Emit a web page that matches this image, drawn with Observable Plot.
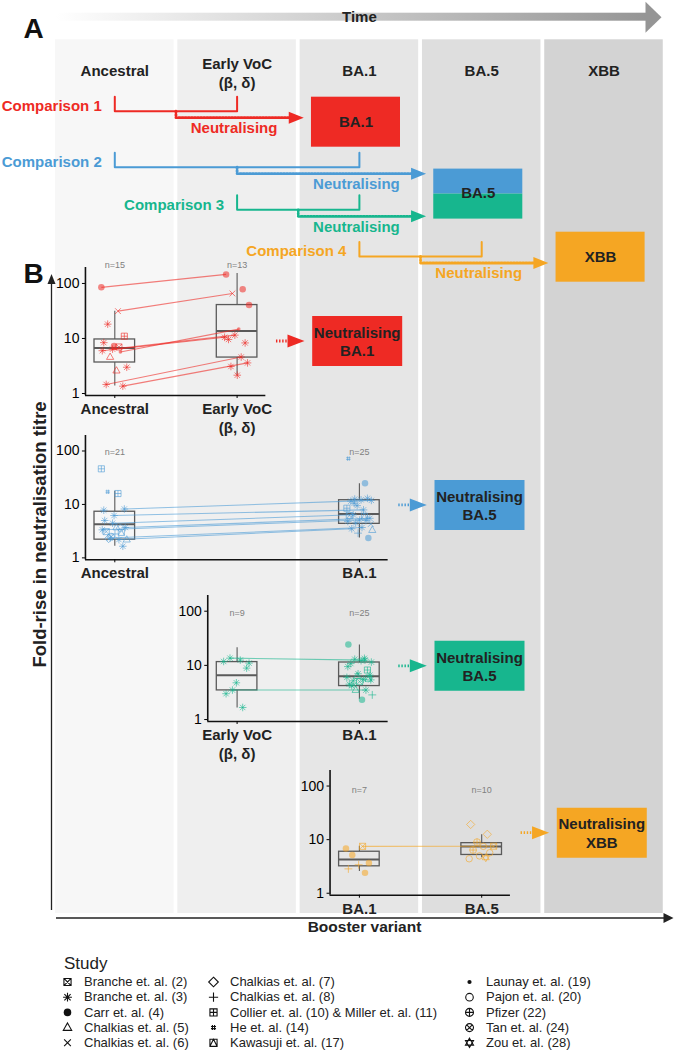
<!DOCTYPE html>
<html><head><meta charset="utf-8">
<script src="https://cdn.jsdelivr.net/npm/d3@7"></script>
<script src="https://cdn.jsdelivr.net/npm/@observablehq/plot@0.6"></script>
<style>
body{margin:0;background:#fff;}
#fig{position:relative;width:674px;height:1051px;overflow:hidden;}
</style></head><body><div id="fig"></div><script>
// ---------------- DATA ----------------
const variants = ["Ancestral", "Early VoC\n(β, δ)", "BA.1", "BA.5", "XBB"];
const comparisonNames = ["Comparison 1", "Comparison 2", "Comparison 3", "Comparison 4"];
const comparisonFrom = [0, 0, 1, 2];
const comparisonTo = [1, 2, 2, 3];
const comparisonTarget = [2, 3, 3, 4];
const studyCodes = ["B2","B3","C4","K5","K6","K7","K8","CM","H14","KW","L19","P20","PF","T24","Z28"];
const studyNames = ["Branche et. al. (2)","Branche et. al. (3)","Carr et. al. (4)","Chalkias et. al. (5)","Chalkias et. al. (6)",
  "Chalkias et. al. (7)","Chalkias et. al. (8)","Collier et. al. (10) & Miller et. al. (11)","He et. al. (14)","Kawasuji et. al. (17)",
  "Launay et. al. (19)","Pajon et. al. (20)","Pfizer (22)","Tan et. al. (24)","Zou et. al. (28)"];
const filledStudies = ["C4", "L19"];

// Comparison 1: Ancestral vs Early VoC
const cmp1Ancestral = [["C4",85],["K6",31.4],["B3",18.2],["CM",11],["C4",7.3],["B3",8.4],["L19",5.7],["K5",4.6],["B3",3.0],["K5",2.6],["B3",1.46],["B3",1.36],["B3",6.4],["B3",6.0],["B2",7.0]];
const cmp1EarlyVoC = [["C4",146],["C4",78.7],["K6",65.8],["C4",40.5],["L19",14.8],["B3",9.6],["B3",8.3],["B3",11.5],["B3",10.5],["B3",4.6],["B3",3.1],["B3",3.6],["B3",2.15]];
const cmp1Pairs = [[0,0],[1,2],[6,4],[12,7],[13,8],[10,9],[11,11]];
const cmp1Stats = [[1.37,3.66,6.7,9.6,31.4],[2.15,4.5,13.7,40.5,151]]; // lo, q1, median, q3, hi

// Comparison 2: Ancestral vs BA.1
const cmp2Ancestral = [["CM",46.4],["CM",16],["H14",17.2],["B3",8.2],["B3",6.2],["B3",7.8],["K7",3.6],["B3",2.35],["K5",2.19],["K5",3.7],["B2",3.1],["B3",1.65],["B3",4.45],["B3",3.35],["B3",2.2],["K7",2.3],["B3",3.7],["K8",2.8],["B3",5.0],["KW",3.0],["T24",2.5]];
const cmp2BA1 = [["H14",72],["C4",25],["B3",12.6],["B3",11.9],["B3",12.2],["B3",11.5],["B3",13],["B3",9.5],["CM",8.5],["B3",7.9],["B3",6.4],["B3",5.5],["B3",5.1],["B2",6.2],["B3",5.0],["B3",4.5],["K5",3.3],["B3",3.7],["B3",3.5],["C4",2.35],["K8",2.9],["B3",4.8],["KW",6.0],["B3",10.5],["K6",4.3]];
const cmp2Pairs = [[3,3],[4,9],[12,10],[16,11],[13,12],[7,17],[14,18]];
const cmp2Stats = [[1.65,2.19,4.26,7.3,17.7],[2.35,4.33,6.64,12.0,24.5]];

// Comparison 3: Early VoC vs BA.1
const cmp3EarlyVoC = [["B3",11.8],["B3",12.5],["B3",13.6],["B3",8.9],["B3",4.77],["B3",3.0],["B3",1.67],["B3",3.5],["B3",11]];
const cmp3BA1 = [["C4",24.4],["B3",12.5],["B3",13],["B3",11.5],["B3",12.2],["B3",10.8],["CM",8.2],["K5",6.3],["B3",6.0],["B3",5.5],["B3",5.2],["B3",6.6],["B2",5.0],["B3",4.5],["B3",3.5],["K5",3.5],["K8",2.85],["C4",2.31],["B3",4.2],["KW",5.8],["B3",7.0],["B3",9.5],["B3",13.5],["K6",4.4],["B3",5.4]];
const cmp3Pairs = [[2,1],[7,14]];
const cmp3Stats = [[1.63,3.45,6.6,11.5,21.2],[2.37,4.15,6.3,11.3,23.7]];

// Comparison 4: BA.1 vs BA.5
const cmp4BA1 = [["C4",6.85],["B2",7.5],["C4",5.18],["C4",3.66],["K8",3.4],["K8",2.85],["C4",2.4]];
const cmp4BA5 = [["K7",19.2],["K7",12.6],["PF",9.0],["B2",7.55],["P20",7.5],["PF",6.4],["P20",5.7],["P20",4.97],["P20",4.4],["Z28",4.6]];
const cmp4Pairs = [[1,3]];
const cmp4Stats = [[2.55,3.18,4.26,5.95,7.55],[4.6,5.18,7.45,8.6,12.3]];

const groups = [[cmp1Ancestral, cmp1EarlyVoC],[cmp2Ancestral, cmp2BA1],[cmp3EarlyVoC, cmp3BA1],[cmp4BA1, cmp4BA5]];
const pairsAll = [cmp1Pairs, cmp2Pairs, cmp3Pairs, cmp4Pairs];
const statsAll = [cmp1Stats, cmp2Stats, cmp3Stats, cmp4Stats];

// ---------------- STYLE / LAYOUT ----------------
const comparisonColors = ["#ee2a24", "#4b9bd5", "#17b68e", "#f5a623"];
const columnFills = ["#f7f7f7", "#efefef", "#e6e6e6", "#dedede", "#d3d3d3"];
const W = 674;
const px = i => 114.3 + 122.3 * i;       // column index -> pixel
const ux = p => (p - 114.3) / 122.3;     // pixel -> column index
const FONT = "'Liberation Sans', Arial, Helvetica, sans-serif";
const baseStyle = {fontFamily: FONT, background: "transparent", overflow: "visible", position: "absolute", left: "0px"};
const lanes = [110.7, 166.7, 209.3, 256];
const targetTops = [96.7, 168.6, 231.7];
const subTop = [267.3, 435, 595, 770];
const subH = [128, 124.3, 126, 124.7];
const subBoxY = [9, 9.8, 9.8, 13.5];
const subNY = [215, 95, 92, 83];
const legendColX = [67, 213, 469];
const DOTS = "1.4,1.7";
const jit = i => (((i * 0.6180339887) % 1) - 0.5) * 0.22;

// ---------------- SYMBOLS ----------------
const mk = f => ({draw(c, size) { const r = Math.sqrt(size / Math.PI); f(c, r); }});
const circ = (c, r) => { c.moveTo(r, 0); c.arc(0, 0, r, 0, 2 * Math.PI); };
const studySymbols = [
  mk((c,r)=>{const s=r*0.85; c.rect(-s,-s,2*s,2*s); c.moveTo(-s,-s); c.lineTo(s,s); c.moveTo(s,-s); c.lineTo(-s,s);}),
  mk((c,r)=>{const s=r*1.05, d=s*0.707; c.moveTo(-s,0);c.lineTo(s,0);c.moveTo(0,-s);c.lineTo(0,s);c.moveTo(-d,-d);c.lineTo(d,d);c.moveTo(d,-d);c.lineTo(-d,d);}),
  mk((c,r)=>circ(c,r*0.9)),
  mk((c,r)=>{c.moveTo(0,-r*1.1); c.lineTo(r,r*0.65); c.lineTo(-r,r*0.65); c.closePath();}),
  mk((c,r)=>{const s=r*0.8; c.moveTo(-s,-s);c.lineTo(s,s);c.moveTo(s,-s);c.lineTo(-s,s);}),
  mk((c,r)=>{const s=r*1.15; c.moveTo(0,-s);c.lineTo(s,0);c.lineTo(0,s);c.lineTo(-s,0);c.closePath();}),
  mk((c,r)=>{const s=r*1.1; c.moveTo(-s,0);c.lineTo(s,0);c.moveTo(0,-s);c.lineTo(0,s);}),
  mk((c,r)=>{const s=r*0.85; c.rect(-s,-s,2*s,2*s); c.moveTo(-s,0);c.lineTo(s,0);c.moveTo(0,-s);c.lineTo(0,s);}),
  mk((c,r)=>{const s=r*0.6, t=r*0.25; c.moveTo(-t,-s);c.lineTo(-t,s);c.moveTo(t,-s);c.lineTo(t,s);c.moveTo(-s,-t);c.lineTo(s,-t);c.moveTo(-s,t);c.lineTo(s,t);}),
  mk((c,r)=>{const s=r*0.85; c.rect(-s,-s,2*s,2*s); c.moveTo(-s,s);c.lineTo(0,-s);c.lineTo(s,s);}),
  mk((c,r)=>circ(c,r*0.5)),
  mk((c,r)=>circ(c,r*0.9)),
  mk((c,r)=>{const s=r*0.95; circ(c,s); c.moveTo(-s,0);c.lineTo(s,0);c.moveTo(0,-s);c.lineTo(0,s);}),
  mk((c,r)=>{const s=r*0.95, d=s*0.707; circ(c,s); c.moveTo(-d,-d);c.lineTo(d,d);c.moveTo(d,-d);c.lineTo(-d,d);}),
  mk((c,r)=>{const s=r*1.1; c.moveTo(0,-s);c.lineTo(s*0.87,s*0.5);c.lineTo(-s*0.87,s*0.5);c.closePath(); c.moveTo(0,s);c.lineTo(s*0.87,-s*0.5);c.lineTo(-s*0.87,-s*0.5);c.closePath();})
];
const triRight = (len, h) => ({draw(c) { c.moveTo(0,0); c.lineTo(-len,-h/2); c.lineTo(-len,h/2); c.closePath(); }});
const triUp = (w, h) => ({draw(c) { c.moveTo(0,0); c.lineTo(w/2,h); c.lineTo(-w/2,h); c.closePath(); }});
const rectSym = (w, h) => ({draw(c) { c.rect(-w/2,-h/2,w,h); }});

const fig = document.getElementById("fig");

// ---------------- MAIN (background, panel A, axes) ----------------
const comps = d3.range(4);
const bracketPts = comps.flatMap(k => [
  {k, x: comparisonFrom[k], y: lanes[k] - 14.5},
  {k, x: comparisonFrom[k], y: lanes[k]},
  {k, x: comparisonTo[k], y: lanes[k]},
  {k, x: comparisonTo[k], y: lanes[k] - 14.5}]);
const TIP_A = 0.455, HEAD_A = 15 / 122.3;
const dotPts = comps.flatMap(k => {
  const m = (comparisonFrom[k] + comparisonTo[k]) / 2, y2 = lanes[k] + 6.5;
  return [{k, x: m, y: lanes[k]}, {k, x: m, y: y2}, {k, x: comparisonTarget[k] - TIP_A - HEAD_A + 0.01, y: y2}];
});
const targetCols = Array.from(new Set(comparisonTarget));
const targetSegs = targetCols.flatMap((t, j) => {
  const fills = comps.filter(k => comparisonTarget[k] === t).map(k => comparisonColors[k]);
  const h = 50 / fills.length;
  return fills.map((f, s) => ({t, f, y1: targetTops[j] + s * h, y2: targetTops[j] + (s + 1) * h}));
});

const main = Plot.plot({
  width: W, height: 940, margin: 0,
  x: {domain: [ux(0), ux(W)], axis: null},
  y: {domain: [0, 940], range: [0, 940], axis: null},
  color: {type: "identity"},
  style: {...baseStyle, top: "0px"},
  marks: [
    Plot.rect(d3.range(5), {x1: i => i - 0.4845, x2: i => i + 0.4845, y1: 39.3, y2: 913, fill: i => columnFills[i]}),
    // time arrow
    Plot.rect([0], {x1: ux(56), x2: ux(646), y1: 12.7, y2: 20.7, fill: "url(#timeGrad)"}),
    Plot.dot([0], {x: ux(661), y: 16.7, r: 5, symbol: triRight(16, 31), fill: "#959595", stroke: "none"}),
    Plot.text(["Time"], {x: 2, y: 16.5, text: d => d, fontSize: 15, fontWeight: "bold", fill: "#222"}),
    Plot.text(["A"], {x: ux(23), y: 29, text: d => d, textAnchor: "start", fontSize: 28, fontWeight: "bold", fill: "#111"}),
    Plot.text(["B"], {x: ux(23), y: 274, text: d => d, textAnchor: "start", fontSize: 28, fontWeight: "bold", fill: "#111"}),
    // headers
    Plot.text(d3.range(5), {x: i => i, y: i => variants[i].includes("\n") ? 72 : 69.5, text: i => variants[i], fontSize: 15, fontWeight: "bold", lineHeight: 1.3, fill: "#222"}),
    // comparisons
    Plot.text(comps, {x: k => comparisonFrom[k], dx: -13, y: k => lanes[k] - 5, text: k => comparisonNames[k], textAnchor: "end", fontSize: 15, fontWeight: "bold", fill: k => comparisonColors[k]}),
    Plot.line(bracketPts, {x: "x", y: "y", z: "k", stroke: d => comparisonColors[d.k], strokeWidth: 2, curve: "linear"}),
    Plot.line(dotPts, {x: "x", y: "y", z: "k", stroke: d => comparisonColors[d.k], strokeWidth: 2.8, strokeDasharray: DOTS}),
    Plot.dot(comps, {x: k => comparisonTarget[k] - TIP_A, y: k => lanes[k] + 6.5, r: 5, symbol: triRight(15, 12), fill: k => comparisonColors[k], stroke: "none"}),
    Plot.text(comps, {x: k => comparisonTarget[k] - 1, dx: -3, y: k => lanes[k] + 17, text: () => "Neutralising", fontSize: 15, fontWeight: "bold", fill: k => comparisonColors[k]}),
    Plot.rect(targetSegs, {x1: d => d.t - 0.392, x2: d => d.t + 0.336, y1: "y1", y2: "y2", fill: "f"}),
    Plot.text(targetCols, {x: t => t - 0.028, y: (t, j) => targetTops[j] + 24.5, text: t => variants[t], fontSize: 15, fontWeight: "bold", fill: "#222"}),
    // panel B axes
    Plot.ruleX([ux(51)], {y1: 282, y2: 910, stroke: "#222", strokeWidth: 1.3}),
    Plot.dot([0], {x: ux(51), y: 273.5, r: 5, symbol: triUp(8, 10), fill: "#222", stroke: "none"}),
    Plot.ruleY([917.5], {x1: ux(56), x2: ux(664), stroke: "#222", strokeWidth: 1.3}),
    Plot.dot([0], {x: ux(673), y: 917.5, r: 5, symbol: triRight(10, 10), fill: "#222", stroke: "none"}),
    Plot.text(["Fold-rise in neutralisation titre"], {x: ux(40), y: 534, text: d => d, rotate: -90, fontSize: 18.5, fontWeight: "bold", fill: "#222"}),
    Plot.text(["Booster variant"], {x: ux(364), y: 926.5, text: d => d, fontSize: 15.5, fontWeight: "bold", fill: "#222"})
  ]
});
const defs = d3.select(main).insert("defs", ":first-child");
const grad = defs.append("linearGradient").attr("id", "timeGrad").attr("x1", "0").attr("x2", "1").attr("y1", "0").attr("y2", "0");
grad.append("stop").attr("offset", "0").attr("stop-color", "#ffffff");
grad.append("stop").attr("offset", "1").attr("stop-color", "#959595");
fig.appendChild(main);

// ---------------- PANEL B SUBPLOTS ----------------
function subplot(k) {
  const a = comparisonFrom[k], b = comparisonTo[k], t = comparisonTarget[k], col = comparisonColors[k];
  const [g1, g2] = groups[k];
  const x0 = a - 0.24, x1 = b + 0.235;
  const mt = 30, mb = 45, h = subH[k];
  const p1 = g1.map((d, i) => ({x: a + jit(i), v: d[1], code: d[0]}));
  const p2 = g2.map((d, i) => ({x: b + jit(i + 5), v: d[1], code: d[0]}));
  const pts = p1.concat(p2);
  const links = pairsAll[k].map(([i, j]) => ({xa: p1[i].x, ya: p1[i].v, xb: p2[j].x, yb: p2[j].v}));
  const stats = statsAll[k].map((s, i) => ({c: i ? b : a, n: (i ? g2 : g1).length, lo: s[0], q1: s[1], med: s[2], q3: s[3], hi: s[4]}));
  const box = "#5a5a5a";
  const svg = Plot.plot({
    width: W, height: mt + h + mb, marginTop: mt, marginBottom: mb,
    marginLeft: px(x0), marginRight: W - px(x1),
    x: {domain: [x0, x1]},
    y: {type: "log", domain: [0.92, 195]},
    symbol: {domain: studyCodes, range: studySymbols},
    style: {...baseStyle, top: (subTop[k] - mt) + "px"},
    marks: [
      Plot.ruleX([x0], {stroke: "#111", strokeWidth: 1.6}),
      Plot.ruleY([0.92], {stroke: "#111", strokeWidth: 1.6}),
      Plot.axisY({ticks: [1, 10, 100], tickFormat: d3.format("d"), tickSize: 3, tickPadding: 3, fontSize: 14, label: null}),
      Plot.axisX({ticks: [a, b], tickFormat: i => variants[i], tickSize: 3, tickPadding: 2, fontSize: 15, fontWeight: "bold", lineHeight: 1.28, label: null, fill: "#222"}),
      Plot.ruleX(stats, {x: "c", y1: "lo", y2: "q1", stroke: box, strokeWidth: 1.1}),
      Plot.ruleX(stats, {x: "c", y1: "q3", y2: "hi", stroke: box, strokeWidth: 1.1}),
      Plot.rect(stats, {x1: d => d.c - 0.166, x2: d => d.c + 0.166, y1: "q1", y2: "q3", fill: "none", stroke: box, strokeWidth: 1.3}),
      Plot.ruleY(stats, {y: "med", x1: d => d.c - 0.166, x2: d => d.c + 0.166, stroke: box, strokeWidth: 2}),
      Plot.link(links, {x1: "xa", y1: "ya", x2: "xb", y2: "yb", stroke: col, strokeOpacity: 0.6, strokeWidth: 1.1}),
      Plot.dot(pts.filter(d => !filledStudies.includes(d.code)), {x: "x", y: "v", symbol: "code", r: 3.6, fill: "none", stroke: col, strokeOpacity: 0.6, strokeWidth: 1}),
      Plot.dot(pts.filter(d => filledStudies.includes(d.code)), {x: "x", y: "v", symbol: "code", r: 3.6, fill: col, fillOpacity: 0.55, stroke: "none"}),
      Plot.text(stats, {x: "c", y: subNY[k], text: d => "n=" + d.n, fontSize: 9, fill: "#808080"}),
      Plot.ruleY([subBoxY[k]], {x1: t - 0.678, x2: t - 0.58, stroke: col, strokeWidth: 2.8, strokeDasharray: DOTS}),
      Plot.dot([0], {x: t - 0.449, y: subBoxY[k], r: 5, symbol: triRight(17, 13), fill: col, stroke: "none"}),
      Plot.dot([0], {x: t - 0.018, y: subBoxY[k], r: 5, symbol: rectSym(90, 50), fill: col, stroke: "none"}),
      Plot.text(["Neutralising\n" + variants[t]], {x: t - 0.018, y: subBoxY[k], text: d => d, fontSize: 15, fontWeight: "bold", lineHeight: 1.22, fill: "#222"})
    ]
  });
  fig.appendChild(svg);
}
comps.forEach(subplot);

// ---------------- LEGEND ----------------
const items = studyCodes.map((code, i) => ({code, name: studyNames[i], c: Math.floor(i / 5), r: i % 5}));
const legend = Plot.plot({
  width: W, height: 111, margin: 0,
  x: {domain: [0, W], range: [0, W], axis: null},
  y: {domain: [0, 111], range: [0, 111], axis: null},
  symbol: {domain: studyCodes, range: studySymbols},
  style: {...baseStyle, top: "940px"},
  marks: [
    Plot.text(["Study"], {x: legendColX[0] - 3.5, y: 23, text: d => d, textAnchor: "start", fontSize: 17, fill: "#222"}),
    Plot.dot(items.filter(d => !filledStudies.includes(d.code)), {x: d => legendColX[d.c], y: d => 41.5 + 15.2 * d.r, symbol: "code", r: 4.2, fill: "none", stroke: "#111", strokeWidth: 1.1}),
    Plot.dot(items.filter(d => filledStudies.includes(d.code)), {x: d => legendColX[d.c], y: d => 41.5 + 15.2 * d.r, symbol: "code", r: 4.2, fill: "#111", stroke: "none"}),
    Plot.text(items, {x: d => legendColX[d.c], y: d => 41.5 + 15.2 * d.r, text: "name", dx: 16.5, textAnchor: "start", fontSize: 13, fill: "#222"})
  ]
});
fig.appendChild(legend);
</script></body></html>
